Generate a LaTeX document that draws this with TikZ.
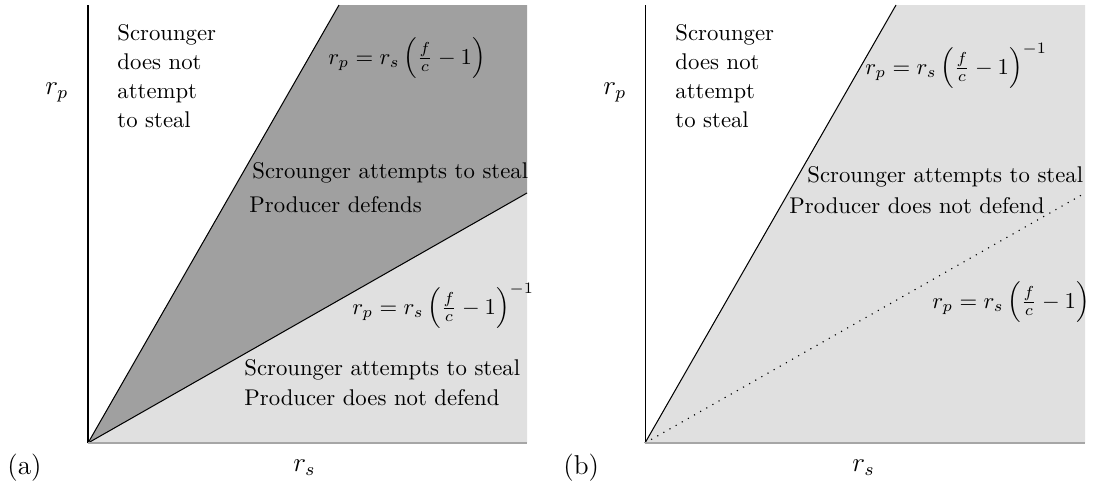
\documentclass[tikz,border=0pt]{standalone}
\begin{document}
\begin{tikzpicture}[x=0.44pt,y=-0.44pt,
  txt/.style={inner sep=0pt,anchor=base west},
  axlab/.style={inner sep=0pt,anchor=base west,font=\large},
  blk/.style={inner sep=0pt,anchor=north west,align=left},
  bound/.style={black,line width=0.45pt},
  sparsedots/.style={black,line width=0.5pt,dash pattern=on 0.5pt off 2.6pt},
  axisv/.style={black,line width=0.45pt},
  axish/.style={draw=gray!70,line width=0.6pt}]
\definecolor{darkfill}{HTML}{A0A0A0}
\definecolor{lightfill}{HTML}{E0E0E0}
\useasboundingbox (0,0) rectangle (1095,484);
% ---------- panel (a)
\coordinate (Ao) at (88,443);
\coordinate (Atop) at (88,5);
\coordinate (As) at (339,5);
\coordinate (Atr) at (527,5);
\coordinate (Ash) at (527,193);
\coordinate (Abr) at (527,443);
\fill[lightfill] (Ao) -- (Ash) -- (Abr) -- cycle;
\fill[darkfill] (Ao) -- (As) -- (Atr) -- (Ash) -- cycle;
\draw[bound] (Ao) -- (As);
\draw[bound] (Ao) -- (Ash);
\draw[axisv] (Atop) -- (Ao);
\draw[axish] (Ao) -- (Abr);
\node[axlab] (arp) at (45,94) {$r_p$};
\node[axlab] (ars) at (293,471) {$r_s$};
\node[axlab] (alab) at (7,474) {(a)};
\node[blk] (anot) at (117,24) {Scrounger\\[0.8pt]does not\\[0.8pt]attempt\\[0.8pt]to steal};
\node[txt] (af1) at (328,64) {$r_p = r_s\left(\frac{f}{c}-1\right)$};
\node[txt] (af2) at (352,314) {$r_p = r_s\left(\frac{f}{c}-1\right)^{-1}$};
\node[txt] (ad1) at (252,178) {Scrounger attempts to steal};
\node[txt] (ad2) at (249,212) {Producer defends};
\node[txt] (an1) at (244,375) {Scrounger attempts to steal};
\node[txt] (an2) at (244,405) {Producer does not defend};
% ---------- panel (b)
\coordinate (Bo) at (645,443);
\coordinate (Btop) at (645,5);
\coordinate (Bs) at (896,5);
\coordinate (Btr) at (1085,5);
\coordinate (Bsh) at (1085,193);
\coordinate (Bbr) at (1085,443);
\fill[lightfill] (Bo) -- (Bs) -- (Btr) -- (Bbr) -- cycle;
\draw[bound] (Bo) -- (Bs);
\draw[sparsedots] (Bo) -- (Bsh);
\draw[axisv] (Btop) -- (Bo);
\draw[axish] (Bo) -- (Bbr);
\node[axlab] (brp) at (603,94) {$r_p$};
\node[axlab] (brs) at (852,471) {$r_s$};
\node[axlab] (blab) at (563,474) {(b)};
\node[blk] (bnot) at (675,24) {Scrounger\\[0.8pt]does not\\[0.8pt]attempt\\[0.8pt]to steal};
\node[txt] (bf1) at (865,74) {$r_p = r_s\left(\frac{f}{c}-1\right)^{-1}$};
\node[txt] (bf2) at (932,308) {$r_p = r_s\left(\frac{f}{c}-1\right)$};
\node[txt] (bn1) at (807,182) {Scrounger attempts to steal};
\node[txt] (bn2) at (789,213) {Producer does not defend};
\end{tikzpicture}
\end{document}
